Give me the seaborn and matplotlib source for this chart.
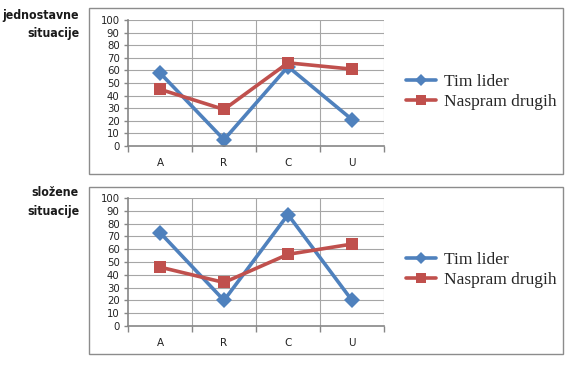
import matplotlib
matplotlib.use("Agg")
import matplotlib.pyplot as plt
import seaborn as sns
import pandas as pd
from matplotlib.patches import Rectangle

categories = ["A", "R", "C", "U"]
series_names = ["Tim lider", "Naspram drugih"]
simple_tim = [58, 5, 63, 21]
simple_naspram = [45, 29, 66, 61]
complex_tim = [73, 20, 87, 20]
complex_naspram = [46, 34, 56, 64]
panel_titles = ["jednostavne\nsituacije", "složene\nsituacije"]
yticks = list(range(0, 101, 10))

sns.set_style("white")
plt.rcParams["font.family"] = ["DejaVu Sans"]

W, H = 574, 367
fig = plt.figure(figsize=(W / 100, H / 100), dpi=100)

blue = "#4F81BD"
red = "#C0504D"

def make_df(tim, nas):
    rows = []
    for c, v in zip(categories, tim):
        rows.append({"cat": c, "val": v, "series": series_names[0]})
    for c, v in zip(categories, nas):
        rows.append({"cat": c, "val": v, "series": series_names[1]})
    return pd.DataFrame(rows)

panels = [
    dict(tim=simple_tim, nas=simple_naspram, box=(89, 8, 563, 174), ax=(128, 20, 384, 146),
         title_y=(15, 33), leg_y=92, leg_x=406),
    dict(tim=complex_tim, nas=complex_naspram, box=(89, 187, 563, 354), ax=(128, 198, 384, 326),
         title_y=(193, 212), leg_y=270, leg_x=406),
]

for i, p in enumerate(panels):
    bx0, by0, bx1, by1 = p["box"]
    fig.patches.append(Rectangle((bx0 / W, 1 - by1 / H), (bx1 - bx0) / W, (by1 - by0) / H,
                                 transform=fig.transFigure, fill=False, edgecolor="#8c8c8c",
                                 linewidth=1.0, zorder=0))
    x0, y0, x1, y1 = p["ax"]
    ax = fig.add_axes([x0 / W, 1 - y1 / H, (x1 - x0) / W, (y1 - y0) / H])
    df = make_df(p["tim"], p["nas"])
    sns.lineplot(data=df, x="cat", y="val", hue="series", style="series",
                 palette={series_names[0]: blue, series_names[1]: red},
                 markers={series_names[0]: "D", series_names[1]: "s"},
                 dashes=False, linewidth=2.6, markersize=8.5, markeredgewidth=0,
                 sort=False, ax=ax)
    ax.set_xlim(-0.5, 3.5)
    ax.set_ylim(0, 100)
    ax.set_yticks(yticks)
    ax.set_xticks(range(len(categories)))
    ax.set_xticklabels(categories)
    ax.set_xticks([-0.5, 0.5, 1.5, 2.5, 3.5], minor=True)
    ax.set_xlabel("")
    ax.set_ylabel("")
    ax.grid(False)
    for yv in yticks[1:]:
        ax.axhline(yv, color="#a6a6a6", linewidth=0.8, zorder=0)
    for xv in [0.5, 1.5, 2.5, 3.5]:
        ax.axvline(xv, color="#a6a6a6", linewidth=0.8, zorder=0)
    for s in ["top", "right"]:
        ax.spines[s].set_visible(False)
    for s in ["left", "bottom"]:
        ax.spines[s].set_color("#868686")
        ax.spines[s].set_linewidth(1.2)
    ax.tick_params(axis="y", which="major", length=3, width=1, color="#868686",
                   labelsize=7.3, pad=3, left=True)
    ax.tick_params(axis="x", which="major", length=0, labelsize=7.5, pad=9)
    ax.tick_params(axis="x", which="minor", length=4, width=1, color="#868686", bottom=True)
    for lab in ax.get_yticklabels() + ax.get_xticklabels():
        lab.set_color("#222222")
    ax.get_legend().remove()
    handles, labels = ax.get_legend_handles_labels()
    for h in handles:
        h.set_markersize(6.5)
    leg = fig.legend(handles, labels, loc="center left",
                     bbox_to_anchor=(p["leg_x"] / W, 1 - p["leg_y"] / H),
                     bbox_transform=fig.transFigure, frameon=False,
                     prop={"family": ["Liberation Serif"], "size": 12.5},
                     handlelength=1.7, handletextpad=0.5, labelspacing=0.25,
                     borderpad=0, borderaxespad=0)
    t1, t2 = panel_titles[i].split("\n")
    for txt, ty in zip((t1, t2), p["title_y"]):
        fig.text(79 / W, 1 - ty / H, txt, ha="right", va="center",
                 fontsize=8.8, fontweight="bold", fontstretch="condensed",
                 family=["DejaVu Sans"], color="#1a1a1a")

fig.savefig("out.png", dpi=100)
